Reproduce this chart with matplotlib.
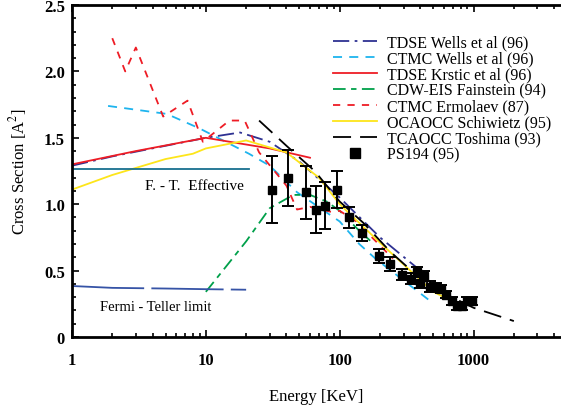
import numpy as np
import matplotlib
matplotlib.use("Agg")
import matplotlib.pyplot as plt
from matplotlib.lines import Line2D
from matplotlib.ticker import MultipleLocator, LogLocator, NullFormatter, FixedLocator, FixedFormatter

plt.rcParams["font.family"] = ["Liberation Serif", "DejaVu Serif"]
plt.rcParams["mathtext.fontset"] = "stix"

# 読み取ったデータ (Energy [KeV], Cross Section [A^2])
tdse_wells_E = [1, 2, 5, 10, 18, 30, 50, 100, 200, 400]
tdse_wells_s = [1.29, 1.36, 1.44, 1.50, 1.54, 1.47, 1.32, 1.05, 0.75, 0.50]

ctmc_wells_E = [1.86, 5.1, 9.0, 21, 30, 48, 100, 140, 185, 490]
ctmc_wells_s = [1.74, 1.68, 1.57, 1.38, 1.29, 1.09, 0.87, 0.70, 0.59, 0.26]

tdse_krstic_E = [1, 3, 10, 30, 60]
tdse_krstic_s = [1.30, 1.40, 1.50, 1.42, 1.35]

cdw_E = [10, 20, 30, 45, 60, 80, 100, 140, 180]
cdw_s = [0.34, 0.72, 0.97, 1.07, 1.07, 1.02, 0.95, 0.80, 0.70]

ctmc_erm_E = [2.0, 2.5, 3.0, 4.8, 7.3, 9.5, 15, 19.5, 25, 40, 48, 60, 88, 100, 133, 250]
ctmc_erm_s = [2.25, 2.00, 2.18, 1.66, 1.78, 1.47, 1.63, 1.63, 1.39, 1.14, 0.96, 0.98, 0.94, 0.95, 0.87, 0.59]

ocaocc_E = [1, 2, 5, 8, 10, 20, 40, 70, 100, 200, 500, 800]
ocaocc_s = [1.11, 1.22, 1.34, 1.38, 1.42, 1.48, 1.39, 1.20, 1.00, 0.71, 0.34, 0.24]

tcaocc_E = [25, 40, 65, 100, 150, 240, 380, 600, 1000, 2000]
tcaocc_s = [1.63, 1.44, 1.25, 1.02, 0.86, 0.64, 0.46, 0.33, 0.22, 0.12]

ft_eff_E = [1.03, 21]
ft_eff_s = [1.265, 1.265]

ft_limit_E = [1, 2, 5, 10, 20]
ft_limit_s = [0.384, 0.37, 0.365, 0.36, 0.356]

ps194_E = [31, 41, 56, 66, 78, 95, 117, 148, 195, 237, 290, 340, 375,
           395, 430, 470, 525, 575, 625, 685, 750, 825, 900, 980]
ps194_s = [1.11, 1.20, 1.09, 0.96, 0.99, 1.11, 0.90, 0.78, 0.61, 0.55, 0.47, 0.44, 0.49,
           0.41, 0.46, 0.38, 0.38, 0.36, 0.32, 0.27, 0.23, 0.23, 0.27, 0.27]
ps194_err = [0.25, 0.21, 0.20, 0.18, 0.18, 0.14, 0.08, 0.06, 0.05, 0.05, 0.04, 0.04, 0.04,
             0.04, 0.04, 0.04, 0.03, 0.03, 0.03, 0.03, 0.03, 0.03, 0.03, 0.03]

fig = plt.figure(figsize=(5.61, 4.06), dpi=100)
ax = fig.add_axes([0.1283, 0.1675, 0.8717, 0.8177])

lw = 1.3
ax.plot(tdse_wells_E, tdse_wells_s, color="#2e3192", lw=lw, dashes=(9, 3, 1.5, 3),
        label="TDSE Wells et al (96)")
ax.plot(ctmc_wells_E, ctmc_wells_s, color="#1eb4ee", lw=lw, dashes=(5, 4),
        label="CTMC Wells et al (96)")
ax.plot(tdse_krstic_E, tdse_krstic_s, color="#ee1c25", lw=lw,
        label="TDSE Krstic et al (96)")
ax.plot(cdw_E, cdw_s, color="#00a04a", lw=lw, dashes=(7, 3, 3, 3),
        label="CDW-EIS Fainstein (94)")
ax.plot(ctmc_erm_E, ctmc_erm_s, color="#ee1c25", lw=lw, dashes=(4, 4),
        label="CTMC Ermolaev (87)")
ax.plot(ocaocc_E, ocaocc_s, color="#fde51a", lw=lw,
        label="OCAOCC Schiwietz (95)")
ax.plot(tcaocc_E, tcaocc_s, color="black", lw=lw, dashes=(10, 5),
        label="TCAOCC Toshima (93)")
ax.plot(ft_eff_E, ft_eff_s, color="#18708f", lw=lw)
ax.plot(ft_limit_E, ft_limit_s, color="#3653a6", lw=lw, dashes=(40, 4))
ax.errorbar(ps194_E, ps194_s, yerr=ps194_err, fmt="s", color="black", ms=6,
            elinewidth=1.4, capsize=4, capthick=1.4)

ax.text(3.5, 1.14, "F. - T.  Effective", fontsize=11, va="center")
ax.text(1.62, 0.23, "Fermi - Teller limit", fontsize=10.5, va="center")

ax.set_xscale("log")
ax.set_xlim(1, 4500)
ax.set_ylim(0, 2.5)

ax.xaxis.set_major_locator(FixedLocator([1, 10, 100, 1000]))
ax.xaxis.set_major_formatter(FixedFormatter(["1", "10", "100", "1000"]))
ax.xaxis.set_minor_locator(LogLocator(base=10, subs=np.arange(2, 10)))
ax.xaxis.set_minor_formatter(NullFormatter())
ax.yaxis.set_major_locator(FixedLocator([0, 0.5, 1.0, 1.5, 2.0, 2.5]))
ax.yaxis.set_major_formatter(FixedFormatter(["0", "0.5", "1.0", "1.5", "2.0", "2.5"]))
ax.yaxis.set_minor_locator(MultipleLocator(0.1))

ax.tick_params(which="both", direction="in", top=True, right=False, labelsize=12, width=1.2)
ax.tick_params(which="major", length=5)
ax.tick_params(which="minor", length=3)
ax.tick_params(axis="x", pad=11)
ax.tick_params(axis="y", pad=5)
for lab in ax.get_xticklabels() + ax.get_yticklabels():
    lab.set_fontweight("bold")

for s in ["left", "bottom", "top"]:
    ax.spines[s].set_linewidth(2)
ax.spines["right"].set_visible(False)

ax.set_xlabel("Energy [KeV]", fontsize=12, labelpad=14)
ax.set_ylabel(r"Cross Section [A$^2$]", fontsize=12, labelpad=11)

handles, labels = ax.get_legend_handles_labels()
handles.append(Line2D([], [], ls="none", marker="s", ms=7, color="black"))
labels.append("PS194 (95)")
ax.legend(handles, labels, loc="upper left", bbox_to_anchor=(0.534, 0.91), frameon=False,
          fontsize=11.5, handlelength=2.75, handletextpad=0.6, labelspacing=0.0,
          borderaxespad=0, borderpad=0, numpoints=1)

fig.savefig("out.png", dpi=100)
